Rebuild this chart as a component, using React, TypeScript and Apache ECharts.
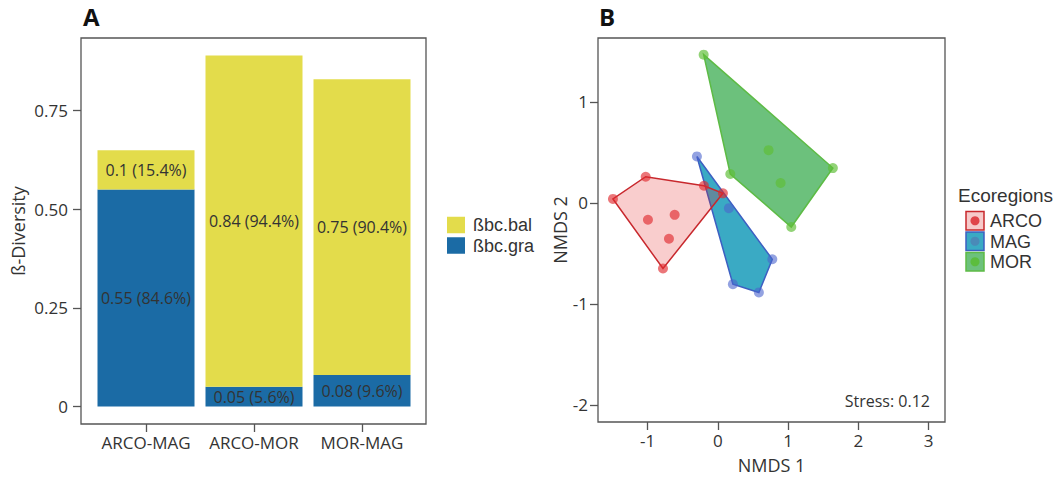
import React, { useEffect, useRef } from 'react';
import * as echarts from 'echarts';

// ---------- Data ----------
const pairCategories = ['ARCO-MAG', 'ARCO-MOR', 'MOR-MAG'];
const graValues = [0.55, 0.05, 0.08];
const balValues = [0.1, 0.84, 0.75];
const betaTicks = [0, 0.25, 0.5, 0.75];

const groups = ['ARCO', 'MAG', 'MOR'];
const arcoPoints = [
  [-1.494, 0.039], [-1.028, 0.259], [-0.199, 0.17], [0.071, 0.095],
  [-0.782, -0.65], [-0.996, -0.167], [-0.616, -0.118], [-0.697, -0.355],
];
const magPoints = [
  [-0.299, 0.46], [0.156, -0.052], [0.774, -0.558], [0.583, -0.887], [0.213, -0.805],
];
const morPoints = [
  [-0.203, 1.468], [1.636, 0.345], [1.044, -0.239], [0.176, 0.286], [0.721, 0.522], [0.892, 0.197],
];
const nmds1Ticks = [-1, 0, 1, 2, 3];
const nmds2Ticks = [-2, -1, 0, 1];
const stressValue = 0.12;

// ---------- Styles ----------
const FONT = '"Open Sans", "Noto Sans", sans-serif';
const LFONT = '"Liberation Sans", Arial, sans-serif';
const TXT = '#333333';
const AXC = '#555555';
const groupPoints = [arcoPoints, magPoints, morPoints];
const groupFill = ['rgba(228,26,28,0.22)', '#3aaac4', '#6cc17c'];
const groupStroke = ['#c8282d', '#3d5fc2', '#5dbb45'];
const groupPointColor = ['rgba(224,40,45,0.8)', 'rgba(75,100,205,0.75)', 'rgba(95,190,55,0.85)'];
const legendKeyFill = ['#f6caca', '#3aaac4', '#6cc17c'];
const legendDot = ['#e0454a', '#4a8ab8', '#5cbd3e'];

function convexHull(pts: number[][]): number[][] {
  const p = pts.slice().sort((a, b) => (a[0] - b[0]) || (a[1] - b[1]));
  const cross = (o: number[], a: number[], b: number[]) =>
    (a[0] - o[0]) * (b[1] - o[1]) - (a[1] - o[1]) * (b[0] - o[0]);
  const lower: number[][] = [];
  for (const q of p) {
    while (lower.length >= 2 && cross(lower[lower.length - 2], lower[lower.length - 1], q) <= 0) lower.pop();
    lower.push(q);
  }
  const upper: number[][] = [];
  for (let i = p.length - 1; i >= 0; i--) {
    const q = p[i];
    while (upper.length >= 2 && cross(upper[upper.length - 2], upper[upper.length - 1], q) <= 0) upper.pop();
    upper.push(q);
  }
  upper.pop();
  lower.pop();
  return lower.concat(upper);
}

export default function App() {
  const ref = useRef<HTMLDivElement>(null);
  useEffect(() => {
    if (!ref.current) return;
    const chart = echarts.init(ref.current, null, { renderer: 'svg' });
    const totals = graValues.map((g, i) => g + balValues[i]);
    const pctLabel = (vals: number[]) => (p: any) => {
      const v = vals[p.dataIndex];
      return `${v} (${((v / totals[p.dataIndex]) * 100).toFixed(1)}%)`;
    };

    const hullSeries = [2, 1, 0].map((gi) => {
      const hull = convexHull(groupPoints[gi]);
      return {
        type: 'custom',
        name: groups[gi] + ' hull',
        xAxisIndex: 1,
        yAxisIndex: 1,
        z: 2,
        silent: true,
        data: hull,
        encode: { x: 0, y: 1 },
        renderItem: (params: any, api: any) => {
          if (params.dataIndex !== 0) return null;
          const pts = hull.map((h) => api.coord(h));
          return {
            type: 'polygon',
            shape: { points: pts },
            style: { fill: groupFill[gi], stroke: groupStroke[gi], lineWidth: 1.5 },
          };
        },
      };
    });

    const scatterSeries = [2, 1, 0].map((gi) => ({
      type: 'scatter',
      name: groups[gi],
      xAxisIndex: 1,
      yAxisIndex: 1,
      z: 3,
      symbolSize: 10,
      data: groupPoints[gi],
      itemStyle: { color: groupPointColor[gi] },
    }));

    const legendB: any[] = [
      {
        type: 'text', x: 958, y: 195,
        style: { text: 'Ecoregions', fontSize: 19, fontFamily: LFONT, fill: TXT, verticalAlign: 'middle' },
      },
    ];
    groups.forEach((g, i) => {
      const y0 = 211.5 + i * 20.5;
      legendB.push({
        type: 'rect',
        shape: { x: 966, y: y0, width: 18, height: 18.5 },
        style: { fill: legendKeyFill[i], stroke: groupStroke[i], lineWidth: 1.5 },
      });
      legendB.push({
        type: 'circle',
        shape: { cx: 975, cy: y0 + 9.25, r: 4.5 },
        style: { fill: legendDot[i] },
      });
      legendB.push({
        type: 'text', x: 990, y: y0 + 9.5,
        style: { text: g, fontSize: 18, fontFamily: LFONT, fill: TXT, verticalAlign: 'middle' },
      });
    });

    const tickStyle = { color: AXC, width: 1.3 };
    const labelBase = { fontSize: 17, fontFamily: FONT, color: TXT };
    const noLine = { show: false, onZero: false };

    chart.setOption({
      animation: false,
      textStyle: { fontFamily: FONT },
      grid: [
        { left: 92, top: 38, width: 324, height: 386, show: false },
        { left: 598, top: 38, width: 347, height: 386, show: true, borderColor: AXC, borderWidth: 1.3, backgroundColor: 'transparent' },
      ],
      xAxis: [
        {
          gridIndex: 0, type: 'category', data: pairCategories, boundaryGap: true,
          axisLine: noLine,
          axisTick: { show: true, alignWithLabel: true, length: 8, lineStyle: tickStyle },
          axisLabel: { ...labelBase, margin: 10, interval: 0 },
        },
        {
          gridIndex: 1, type: 'value', min: -1.707, max: 3.232,
          axisLine: noLine,
          axisTick: { show: true, length: 8, customValues: nmds1Ticks, lineStyle: tickStyle },
          axisLabel: { ...labelBase, margin: 10, customValues: nmds1Ticks, formatter: (v: number) => String(v) },
          splitLine: { show: false },
          name: 'NMDS 1', nameLocation: 'middle', nameGap: 34,
          nameTextStyle: { fontSize: 18, fontFamily: FONT, color: TXT },
        },
      ],
      yAxis: [
        {
          gridIndex: 0, type: 'value', min: -0.0445, max: 0.9345, offset: 11,
          axisLine: noLine,
          axisTick: { show: true, length: 8, customValues: betaTicks, lineStyle: tickStyle },
          axisLabel: {
            ...labelBase, margin: 13, customValues: betaTicks,
            formatter: (v: number) => (v === 0 ? '0' : v.toFixed(2)),
          },
          splitLine: { show: false },
          name: 'ß-Diversity', nameLocation: 'middle', nameGap: 54,
          nameTextStyle: { fontSize: 18, fontFamily: FONT, color: TXT },
        },
        {
          gridIndex: 1, type: 'value', min: -2.17, max: 1.633,
          axisLine: noLine,
          axisTick: { show: true, length: 8, customValues: nmds2Ticks, lineStyle: tickStyle },
          axisLabel: { ...labelBase, margin: 10, customValues: nmds2Ticks, formatter: (v: number) => String(v) },
          splitLine: { show: false },
          name: 'NMDS 2', nameLocation: 'middle', nameGap: 29,
          nameTextStyle: { fontSize: 18, fontFamily: FONT, color: TXT },
        },
      ],
      legend: {
        data: ['ßbc.bal', 'ßbc.gra'],
        orient: 'vertical', left: 447, top: 216, padding: 0,
        itemWidth: 18, itemHeight: 16.5, itemGap: 2.5, icon: 'rect',
        selectedMode: false,
        textStyle: { fontSize: 18, fontFamily: LFONT, color: TXT, lineHeight: 18, padding: [0, 0, 0, 3] },
      },
      series: [
        {
          type: 'bar', name: 'ßbc.gra', stack: 'beta', xAxisIndex: 0, yAxisIndex: 0,
          data: graValues, barWidth: 97, itemStyle: { color: '#1b6ba5' },
          label: { show: true, position: 'inside', formatter: pctLabel(graValues), fontSize: 16, fontFamily: FONT, color: TXT },
        },
        {
          type: 'bar', name: 'ßbc.bal', stack: 'beta', xAxisIndex: 0, yAxisIndex: 0,
          data: balValues, barWidth: 97, itemStyle: { color: '#e3dc4b' },
          label: { show: true, position: 'inside', formatter: pctLabel(balValues), fontSize: 16, fontFamily: FONT, color: TXT },
        },
        ...hullSeries,
        ...scatterSeries,
      ],
      graphic: [
        {
          type: 'rect', silent: true,
          shape: { x: 81, y: 38, width: 345, height: 386 },
          style: { fill: 'none', stroke: AXC, lineWidth: 1.3 },
        },
        { type: 'text', x: 83, y: 4, style: { text: 'A', fontSize: 24, fontWeight: 'bold', fontFamily: FONT, fill: '#111' } },
        { type: 'text', x: 599, y: 4, style: { text: 'B', fontSize: 24, fontWeight: 'bold', fontFamily: FONT, fill: '#111' } },
        {
          type: 'text', x: 930, y: 401,
          style: { text: `Stress: ${stressValue}`, fontSize: 16, fontFamily: FONT, fill: TXT, align: 'right', verticalAlign: 'middle' },
        },
        ...legendB,
      ],
    });
    return () => chart.dispose();
  }, []);
  return <div ref={ref} style={{ position: 'fixed', left: 0, top: 0, width: 1062, height: 479, background: '#fff' }} />;
}
